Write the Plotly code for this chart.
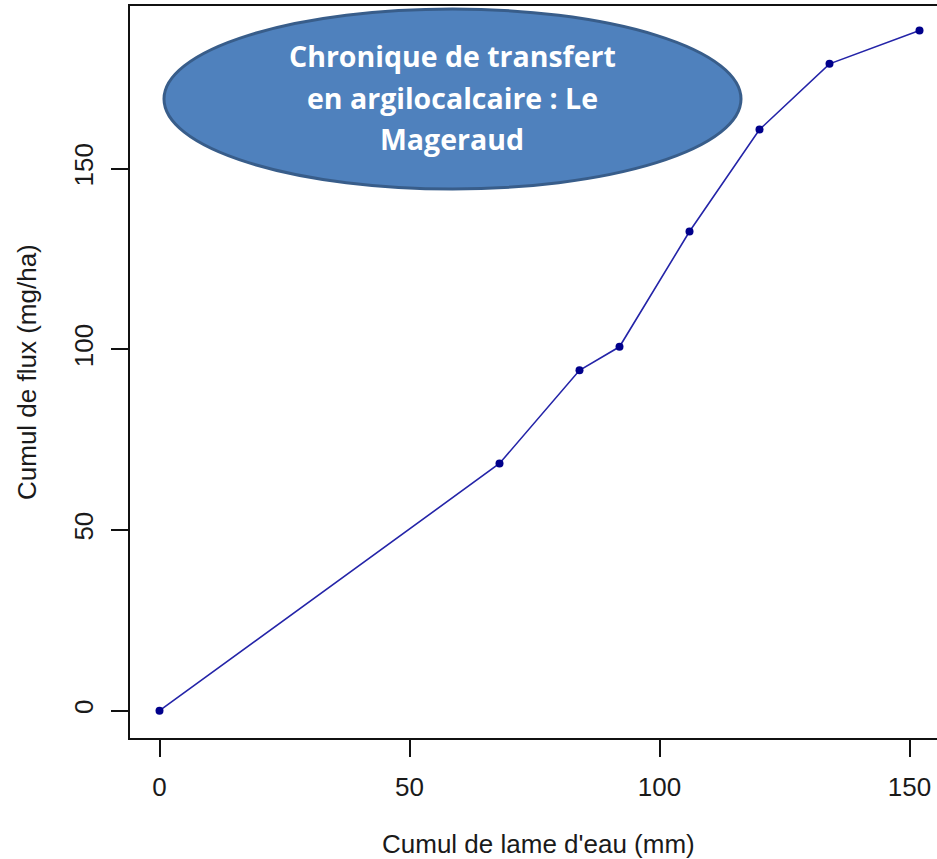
import plotly.graph_objects as go

# Cumulative water depth (mm) vs cumulative flux (mg/ha)
lame_eau = [0, 68, 84, 92, 106, 120, 134, 152]
cumul_flux = [0, 68.4, 94.2, 100.7, 132.6, 160.8, 179.0, 188.2]

x_ticks = [0, 50, 100, 150]
y_ticks = [0, 50, 100, 150]

titre_lignes = ["Chronique de transfert", "en argilocalcaire : Le", "Mageraud"]
x_titre = "Cumul de lame d'eau (mm)"
y_titre = "Cumul de flux (mg/ha)"

W, H = 937, 859
ML, MR, MT, MB = 130, 0, 6, 121
PW, PH = W - ML - MR, H - MT - MB


def px(x):
    return (x - ML) / PW


def py(y):
    return (H - MB - y) / PH


axis_font = dict(family="Liberation Sans, Arial, sans-serif", size=26, color="#1a1a1a")

fig = go.Figure()
fig.add_trace(go.Scatter(
    x=lame_eau, y=cumul_flux, mode="lines+markers",
    line=dict(color="#2424a8", width=1.6),
    marker=dict(color="#00008b", size=8),
    showlegend=False, hoverinfo="x+y",
))

fig.update_layout(
    width=W, height=H,
    margin=dict(l=ML, r=MR, t=MT, b=MB, pad=0),
    paper_bgcolor="white", plot_bgcolor="white",
    xaxis=dict(
        range=[-5.9, 155.5], tickvals=x_ticks, ticktext=[str(v) for v in x_ticks],
        showgrid=False, zeroline=False, showline=True, linecolor="#111", linewidth=2,
        mirror=True, ticks="outside", ticklen=17, tickwidth=2, tickcolor="#111",
        tickfont=axis_font, ticklabelstandoff=8,
    ),
    yaxis=dict(
        range=[-7.55, 195.0], tickvals=y_ticks, ticktext=[str(v) for v in y_ticks],
        showgrid=False, zeroline=False, showline=True, linecolor="#111", linewidth=2,
        ticks="outside", ticklen=17, tickwidth=2, tickcolor="#111",
        tickfont=axis_font, tickangle=-90, ticklabelstandoff=8,
    ),
)

# Title bubble
fig.add_shape(
    type="circle", xref="paper", yref="paper",
    x0=px(164), x1=px(741), y0=py(189), y1=py(9),
    fillcolor="#4f81bd", line=dict(color="#385d8a", width=3), layer="above",
)
for txt, yc in zip(titre_lignes, [56, 98, 139]):
    fig.add_annotation(
        text=f"<b>{txt}</b>", xref="paper", yref="paper",
        x=px(452), y=py(yc), xanchor="center", yanchor="middle",
        showarrow=False,
        font=dict(family="Open Sans, Lato, sans-serif", size=28.5, color="white"),
    )

# Axis titles
fig.add_annotation(
    text=x_titre, xref="paper", yref="paper", x=px(538), y=py(844),
    xanchor="center", yanchor="middle", showarrow=False, font=axis_font,
)
fig.add_annotation(
    text=y_titre, xref="paper", yref="paper", x=px(27), y=py(372),
    xanchor="center", yanchor="middle", showarrow=False, font=axis_font, textangle=-90,
)

fig.write_html("out.html")
